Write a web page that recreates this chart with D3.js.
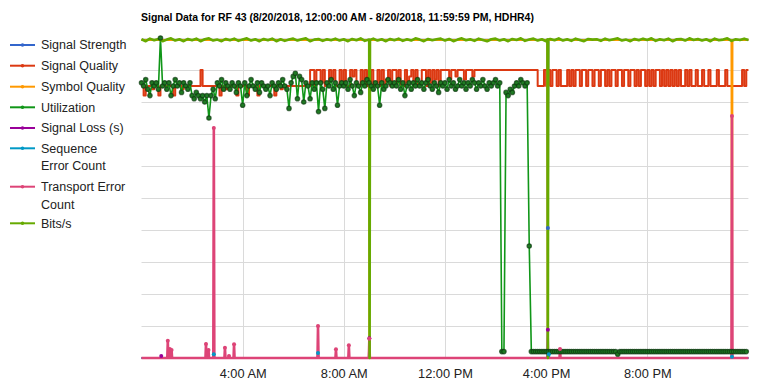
<!DOCTYPE html>
<html>
<head>
<meta charset="utf-8">
<script src="https://cdnjs.cloudflare.com/ajax/libs/d3/7.8.5/d3.min.js"></script>
<style>
  body { margin: 0; background: #fff; }
  text { font-family: "Liberation Sans", Arial, sans-serif; }
</style>
</head>
<body>
<script>
var title = 'Signal Data for RF 43 (8/20/2018, 12:00:00 AM - 8/20/2018, 11:59:59 PM, HDHR4)';

var seriesNames = ['Signal Strength', 'Signal Quality', 'Symbol Quality', 'Utilization',
                   'Signal Loss (s)', 'Sequence Error Count', 'Transport Error Count', 'Bits/s'];
var legendLines = [['Signal Strength'], ['Signal Quality'], ['Symbol Quality'], ['Utilization'],
                   ['Signal Loss (s)'], ['Sequence', 'Error Count'], ['Transport Error', 'Count'], ['Bits/s']];
var seriesColors = ['#3366cc', '#dc3912', '#ff9900', '#109618', '#990099', '#0099c6', '#dd4477', '#66aa00'];

var xTickHours = [4, 8, 12, 16, 20];
var xTickLabels = ['4:00 AM', '8:00 AM', '12:00 PM', '4:00 PM', '8:00 PM'];

// utilization, one value every 5 minutes (one row = one hour)
var utilization = [
  86,85,87,84,82,86,85,86,84,100,85,86,
  84,86,82,85,87,85,86,83,86,85,84,86,
  82,81,83,82,81,82,80,82,75,82,84,81,
  86,85,87,84,86,85,84,86,85,83,86,85,
  79,86,82,85,87,85,84,86,83,86,85,84,
  85,82,86,85,84,86,85,87,85,84,78,86,
  88,89,81,88,87,80,86,85,81,86,84,86,
  77,86,84,78,86,85,87,84,86,79,85,86,
  85,86,84,87,85,82,86,85,83,86,85,87,
  86,85,84,86,85,79,86,84,85,87,86,85,
  86,85,87,84,86,82,85,86,84,86,85,87,
  85,86,84,86,87,85,84,86,85,83,86,85,
  86,84,87,85,86,84,85,87,85,86,84,86,
  85,87,86,84,86,85,87,85,84,86,85,86,
  87,85,86,2,2,83,82,84,83,85,86,85,
  87,86,85,86,35,2,2,2,2,2,2,2,
  2,2,2,2,2,2,2,2,2,2,2,2,
  2,2,2,2,2,2,2,2,2,2,2,2,
  2,2,2,2,2,2,2,2,2,2,1.2,2,
  2,2,2,2,2,2,2,2,2,2,2,2,
  2,2,2,2,2,2,2,2,2,2,2,2,
  2,2,2,2,2,2,2,2,2,2,2,2,
  2,2,2,2,2,2,2,2,2,2,2,2,
  2,2,2,2,2,2,2,2,2,2,2,2
];

// signal quality, one value every 5 minutes (one row = one hour)
var signalQuality = [
  85,82,85,85,85,84,85,85,82,85,85,85,
  85,85,85,82,85,85,85,84,85,85,85,85,
  85,85,85,85,90,85,85,85,85,85,85,85,
  85,82,85,85,84,85,85,85,85,82,85,85,
  85,85,82,85,85,85,85,82,85,85,85,85,
  85,85,85,82,85,85,84,85,85,85,85,85,
  85,85,85,85,85,85,85,85,90,90,85,90,
  90,86,90,85,85,90,87,90,85,85,90,86,
  90,85,85,90,88,90,85,85,90,86,90,85,
  85,90,85,86,90,85,90,85,87,90,85,90,
  90,86,90,85,85,90,86,88,90,85,90,85,
  86,90,90,85,90,86,90,87,90,85,90,90,
  90,90,87,90,90,88,90,90,90,87,90,90,
  90,88,90,90,90,90,90,90,90,90,90,90,
  90,90,90,90,90,90,90,90,90,90,90,90,
  90,90,90,90,90,90,90,90,85,85,85,90,
  85,90,85,90,90,85,90,85,85,85,90,85,
  90,85,90,90,85,90,90,85,90,90,85,90,
  90,85,90,90,85,90,85,90,90,85,90,90,
  85,90,90,85,90,90,85,90,85,90,90,85,
  90,85,90,85,90,90,85,90,85,90,85,90,
  85,90,85,90,85,85,90,85,90,85,85,90,
  85,85,90,85,85,90,85,85,85,90,85,85,
  85,90,85,85,85,85,85,85,85,90,85,90
];

// bits/s (scaled), one value every 10 minutes (one row = two hours)
var bitsPerSec = [
  99.6,99.0,99.8,99.3,99.7,99.0,99.5,99.9,99.2,99.6,99.0,99.7,
  99.3,99.8,99.0,99.6,99.9,99.2,99.5,99.0,99.7,99.3,99.8,99.1,
  99.5,99.9,99.2,99.6,99.0,99.7,99.3,99.8,99.0,99.6,99.1,99.5,
  99.8,99.2,99.6,99.9,99.0,99.5,99.7,99.1,99.6,99.3,99.8,99.2,
  99.6,99.0,99.7,99.3,99.9,99.1,99.5,99.8,99.2,99.6,99.0,99.7,
  99.3,99.8,99.1,99.6,99.2,99.9,99.5,99.0,99.7,99.3,99.6,99.8,
  99.2,99.7,99.0,99.5,99.9,99.3,99.6,99.1,99.8,99.4,99.0,99.6,
  99.8,99.2,99.6,99.0,99.7,99.4,99.9,99.1,99.5,99.8,99.2,99.6,
  99.0,99.7,99.3,99.9,99.2,99.6,99.1,99.8,99.4,99.0,99.7,99.5,
  99.6,99.1,99.8,99.3,99.6,99.9,99.2,99.5,99.0,99.7,99.3,99.8,
  99.4,99.9,99.1,99.6,99.3,99.8,99.0,99.6,99.7,99.2,99.9,99.4,
  99.7,99.2,99.6,99.0,99.8,99.3,99.5,99.9,99.1,99.6,99.4,99.8
];
var bitsEventHours = [9.005, 9.02, 9.035, 16.055, 16.07, 16.085, 24];
var bitsEventValues = [99.5, 0, 99.4, 99.6, 0, 99.5, 99.4];

var symbolHours = [0, 9.0, 9.01, 9.025, 16.05, 16.065, 16.08, 23.33, 23.35, 23.37, 24];
var symbolValues = [99.4, 99.4, 0, 99.4, 99.4, 0, 99.4, 99.4, 0, 99.4, 99.4];

var strengthHours = [0, 16.05, 16.07, 16.09, 24];
var strengthValues = [99.4, 99.4, 40.6, 99.4, 99.4];

var lossHours = [0, 0.76, 0.78, 0.80, 8.99, 9.01, 9.03, 16.05, 16.07, 16.09, 24];
var lossValues = [0, 0, 0.6, 0, 0, 6.2, 0, 0, 8.8, 0, 0];

var sequenceHours = [0, 2.84, 2.86, 2.88, 6.96, 6.98, 7.0, 16.09, 16.11, 16.13, 23.33, 23.35, 23.37, 24];
var sequenceValues = [0, 0, 1.2, 0, 0, 1.6, 0, 0, 1.2, 0, 0, 0.4, 0, 0];

var transportHours = [0, 1.02, 1.04, 1.06, 1.10, 1.12, 1.14, 1.17, 1.19, 1.21,
  2.53, 2.55, 2.57, 2.63, 2.65, 2.67, 2.84, 2.86, 2.88, 3.28, 3.30, 3.32,
  3.44, 3.46, 3.48, 3.64, 3.66, 3.68, 6.96, 6.98, 7.0, 7.67, 7.69, 7.71,
  8.18, 8.20, 8.22, 8.99, 9.01, 9.03, 16.53, 16.55, 16.57, 23.33, 23.35, 23.37, 24];
var transportValues = [0, 0, 5.4, 0, 0, 2.8, 0, 0, 2.5, 0,
  0, 4.4, 0, 0, 2.5, 0, 0, 71.9, 0, 0, 3.2, 0,
  0, 0.6, 0, 0, 4.3, 0, 0, 10, 0, 0, 2.7, 0,
  0, 4, 0, 0, 6, 0, 0, 2.8, 0, 0, 75.6, 0, 0];

var width = 769, height = 384;

function pairs(hours, values) {
  return hours.map(function(h, i) { return { h: h, v: values[i] }; });
}

var hours5 = d3.range(utilization.length).map(function(i) { return i / 12; });
var hours10 = d3.range(bitsPerSec.length).map(function(i) { return i / 6; });

var bitsData = pairs(hours10, bitsPerSec).concat(pairs(bitsEventHours, bitsEventValues));
bitsData.sort(function(a, b) { return a.h - b.h; });

var qualityData = pairs(hours5, signalQuality);
qualityData.push({ h: 24, v: signalQuality[signalQuality.length - 1] });

var series = [
  pairs(strengthHours, strengthValues),
  qualityData,
  pairs(symbolHours, symbolValues),
  pairs(hours5, utilization),
  pairs(lossHours, lossValues),
  pairs(sequenceHours, sequenceValues),
  pairs(transportHours, transportValues),
  bitsData
];
var lineWidths = [2, 2, 2, 1.6, 2, 2, 2.6, 2.6];

var x = d3.scaleLinear().domain([0, 24]).range([141.5, 748.4]);
var y = d3.scaleLinear().domain([0, 100]).range([358, 38]);

var svg = d3.select('body').append('svg')
  .attr('width', width)
  .attr('height', height);

// title
svg.append('text')
  .attr('x', 141)
  .attr('y', 21)
  .attr('font-size', '10.5px')
  .attr('font-weight', 'bold')
  .attr('fill', '#000')
  .text(title);

// grid
var grid = svg.append('g').attr('class', 'grid');
grid.selectAll('line.h')
  .data(d3.range(10, 101, 10))
  .enter().append('line')
  .attr('x1', x(0)).attr('x2', x(24))
  .attr('y1', function(d) { return Math.round(y(d)) + 0.5; })
  .attr('y2', function(d) { return Math.round(y(d)) + 0.5; })
  .attr('stroke', '#dadada');
grid.selectAll('line.v')
  .data(xTickHours)
  .enter().append('line')
  .attr('x1', function(d) { return Math.round(x(d)) + 0.5; })
  .attr('x2', function(d) { return Math.round(x(d)) + 0.5; })
  .attr('y1', y(100)).attr('y2', y(0))
  .attr('stroke', '#dadada');

// x axis labels
var xAxis = svg.append('g')
  .attr('transform', 'translate(0,' + y(0) + ')')
  .call(d3.axisBottom(x)
    .tickValues(xTickHours)
    .tickSize(0)
    .tickFormat(function(d, i) { return xTickLabels[i]; }));
xAxis.select('.domain').remove();
xAxis.selectAll('text')
  .attr('y', 20)
  .attr('dy', null)
  .attr('font-size', '12.8px')
  .attr('font-family', '"Liberation Sans", Arial, sans-serif')
  .attr('fill', '#222');

// lines
var line = d3.line()
  .x(function(d) { return x(d.h); })
  .y(function(d) { return y(d.v); });
var stepLine = d3.line()
  .curve(d3.curveStepAfter)
  .x(function(d) { return x(d.h); })
  .y(function(d) { return y(d.v); });

var plot = svg.append('g');
series.forEach(function(data, i) {
  plot.append('path')
    .datum(data)
    .attr('d', i === 1 ? stepLine : line)
    .attr('fill', 'none')
    .attr('stroke', seriesColors[i])
    .attr('stroke-width', lineWidths[i])
    .attr('stroke-linejoin', 'round');
});

// utilization points
plot.selectAll('circle.util')
  .data(series[3])
  .enter().append('circle')
  .attr('cx', function(d) { return x(d.h); })
  .attr('cy', function(d) { return y(d.v); })
  .attr('r', 2.2)
  .attr('fill', '#1f7a23')
  .attr('stroke', '#0d3a10')
  .attr('stroke-opacity', 0.7)
  .attr('stroke-width', 1.2);

// event points of the sparse series
[0, 4, 5, 6].forEach(function(i) {
  plot.selectAll(null)
    .data(series[i].filter(function(d) { return d.v !== 0 && d.v !== 99.4; }))
    .enter().append('circle')
    .attr('cx', function(d) { return x(d.h); })
    .attr('cy', function(d) { return y(d.v); })
    .attr('r', 2)
    .attr('fill', seriesColors[i]);
});

// legend
var legend = svg.append('g');
var legendY = [45, 65.7, 86.7, 107.3, 128, 148.3, 186.7, 223.3];
legendLines.forEach(function(lines, i) {
  var g = legend.append('g').attr('transform', 'translate(0,' + legendY[i] + ')');
  g.append('line')
    .attr('x1', 10).attr('x2', 35)
    .attr('y1', 0).attr('y2', 0)
    .attr('stroke', seriesColors[i])
    .attr('stroke-width', 2);
  g.append('circle')
    .attr('cx', 22.5).attr('cy', 0).attr('r', 1.8)
    .attr('fill', seriesColors[i]);
  g.selectAll('text')
    .data(lines)
    .enter().append('text')
    .attr('x', 41)
    .attr('y', function(d, j) { return 4.4 + j * 17.5; })
    .attr('font-size', '12.5px')
    .attr('fill', '#222')
    .text(function(d) { return d; });
});
</script>
</body>
</html>
